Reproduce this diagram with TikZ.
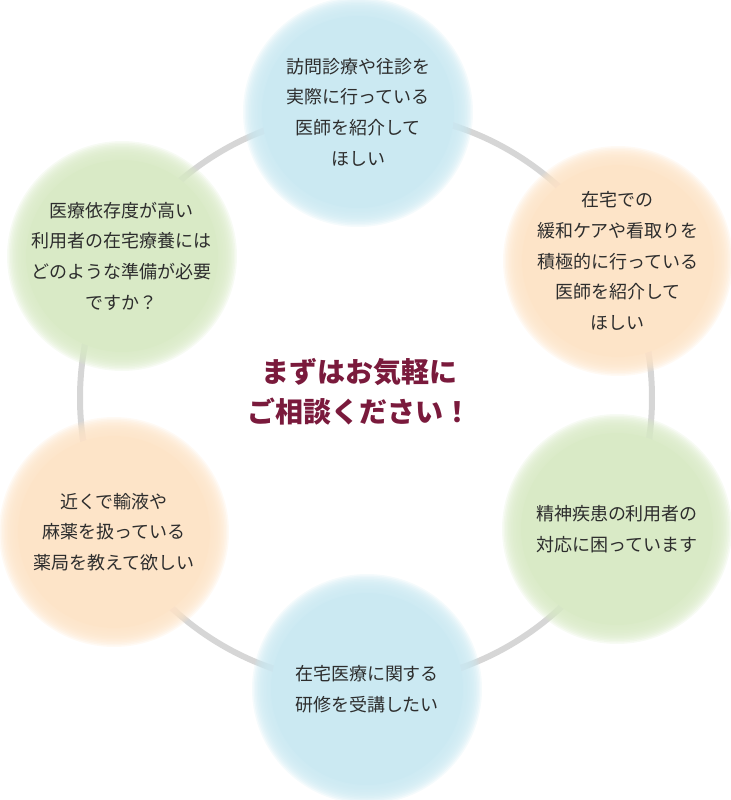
\documentclass[tikz,border=0pt]{standalone}
\usepackage{fontspec}
\setmainfont{Noto Sans CJK JP}
\usetikzlibrary{backgrounds}

\definecolor{ringgray}{RGB}{214,214,214}
\definecolor{bubbleblue}{RGB}{203,233,242}
\definecolor{bubblepeach}{RGB}{253,228,200}
\definecolor{bubblegreen}{RGB}{217,234,198}
\definecolor{textgray}{RGB}{45,45,45}
\definecolor{headred}{RGB}{122,26,60}

\begin{document}
\begin{tikzpicture}[x=0.5pt, y=-0.5pt,
        bubble/.style={align=center, text=textgray, font=\fontsize{9}{15.3}\selectfont},
        ring/.style={draw=ringgray, line width=3pt},
        headline/.style={align=center, text=headred, font=\fontsize{14}{20}\selectfont\bfseries}]
            \useasboundingbox (0, 0) rectangle (731, 800);
            %\draw[lightgray] (0, 0) grid[step=50] (731, 800);
            \coordinate (hub) at (366, 398);
            \node[bubble] (visit) at (358, 112)
                {訪問診療や往診を\\実際に行っている\\医師を紹介して\\ほしい};
            \node[bubble] (care) at (618, 261)
                {在宅での\\緩和ケアや看取りを\\積極的に行っている\\医師を紹介して\\ほしい};
            \node[bubble] (mental) at (617, 529)
                {精神疾患の利用者の\\対応に困っています};
            \node[bubble] (training) at (367, 689)
                {在宅医療に関する\\研修を受講したい};
            \node[bubble] (pharmacy) at (114, 532)
                {近くで輸液や\\麻薬を扱っている\\薬局を教えて欲しい};
            \node[bubble] (depend) at (122, 256)
                {医療依存度が高い\\利用者の在宅療養には\\どのような準備が必要\\ですか？};
            \node[headline] (welcome) at (360, 392) {まずはお気軽に\\ご相談ください！};
            \begin{scope}[on background layer]
                \draw[ring] (hub) circle [radius=286];
                % soft edged discs
                \foreach \b/\col in {visit/bubbleblue, care/bubblepeach, mental/bubblegreen,
                        training/bubbleblue, pharmacy/bubblepeach, depend/bubblegreen} {
                    \foreach \r in {115, 113.5, ..., 97}
                        \fill[\col, fill opacity=0.2] (\b.center) circle [radius=\r];
                    \fill[\col] (\b.center) circle [radius=96];
                }
            \end{scope}
        \end{tikzpicture}
\end{document}
